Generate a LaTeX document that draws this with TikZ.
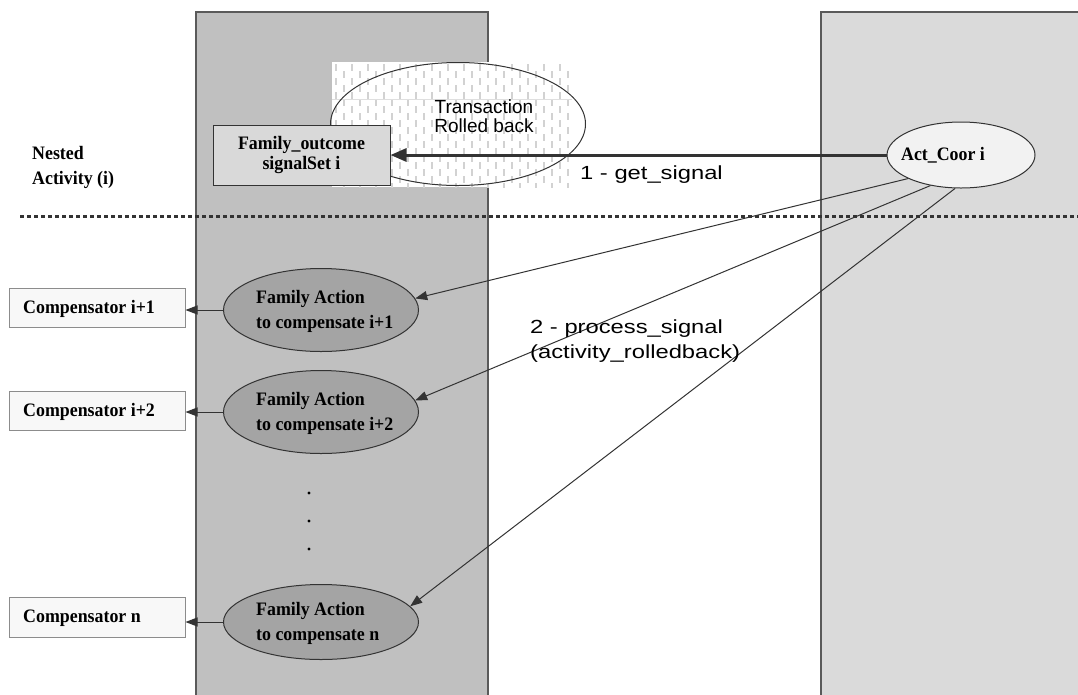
\documentclass[tikz,border=0pt]{standalone}
\usepackage{fontspec}
\setmainfont{Liberation Serif}
\newfontfamily\narrowserif[FakeStretch=0.94]{Liberation Serif}
\newfontfamily\widesans[FakeStretch=1.25]{Liberation Sans}
\newfontfamily\plainsans{Liberation Sans}
\usetikzlibrary{arrows.meta,shapes.geometric}

\definecolor{laneA}{HTML}{C0C0C0}
\definecolor{laneB}{HTML}{DADADA}
\definecolor{laneedge}{HTML}{5A5A5A}
\definecolor{ink}{HTML}{333333}
\definecolor{sigfill}{HTML}{D9D9D9}
\definecolor{actfill}{HTML}{A4A4A4}
\definecolor{coorfill}{HTML}{F2F2F2}
\definecolor{compfill}{HTML}{F8F8F8}
\definecolor{compedge}{HTML}{8C8C8C}
\definecolor{hatch}{HTML}{D2D2D2}

\tikzset{
  lane/.style={rectangle, draw=laneedge, line width=1.5pt, anchor=north west, inner sep=0pt},
  sigbox/.style={rectangle, draw=ink, fill=sigfill, line width=1pt, minimum width=177pt, minimum height=60pt, inner sep=0pt,
    align=center, font=\narrowserif\bfseries\fontsize{19}{20}\selectfont},
  compbox/.style={rectangle, draw=compedge, fill=compfill, line width=1pt, minimum width=176pt, minimum height=39pt, inner sep=0pt},
  actoval/.style={ellipse, draw=ink, fill=actfill, line width=1pt, minimum width=195pt, minimum height=83pt, inner sep=0pt},
  cooroval/.style={ellipse, draw=ink, fill=coorfill, line width=1pt, minimum width=148pt, minimum height=66pt, inner sep=0pt},
  txnoval/.style={ellipse, draw=ink, line width=1pt, minimum width=255pt, minimum height=123pt, inner sep=0pt},
  serifbold/.style={inner sep=0pt, align=left, font=\narrowserif\bfseries\fontsize{19}{25}\selectfont},
  sanslabel/.style={inner sep=0pt, align=left, font=\widesans\fontsize{19}{25}\selectfont},
  ovallabel/.style={inner sep=0pt, align=center, font=\plainsans\fontsize{19}{19}\selectfont},
  arr/.style={draw=ink, line width=1pt, -{Triangle[length=12pt,width=9pt]}},
  bigarr/.style={draw=ink, line width=3pt, -{Triangle[length=16pt,width=13pt]}},
  divider/.style={draw=ink, line width=3pt, dash pattern=on 4pt off 3pt},
  hatchmark/.style={draw=hatch, line width=1.3pt}
}

\begin{document}
\begin{tikzpicture}[x=1pt,y=-1pt]
\useasboundingbox (0,0) rectangle (1078,694);
\clip (0,0) rectangle (1078,694);

% swim lanes
\node[lane, fill=laneA, minimum width=292pt, minimum height=700pt] (laneL) at (195,11) {};
\node[lane, fill=laneB, minimum width=280pt, minimum height=700pt] (laneR) at (820,11) {};

% textured backdrop behind the rollback oval
\fill[white] (332,62) rectangle (572,187);
\begin{scope}
  \clip (332,62) rectangle (572,187);
  \foreach \x in {336,352,...,568} {
    \foreach \y in {64,78,...,186} { \draw[hatchmark] (\x,\y) -- (\x,\y+7); }
  }
  \foreach \x in {344,360,...,568} {
    \foreach \y in {71,85,...,186} { \draw[hatchmark] (\x,\y) -- (\x,\y+7); }
  }
  \draw[hatch!70, line width=0.8pt] (332,99) -- (572,99);
\end{scope}

% rollback oval
\node[txnoval] (txn) at (458,124) {};
\node[ovallabel] (txnlbl) at (484,116) {Transaction\\Rolled back};

% signal set box
\node[sigbox] (fam) at (301.5,155) {Family\_outcome\\signalSet i};

% coordinator
\node[cooroval] (coor) at (961,155) {};
\node[serifbold] (coorlbl) at (943,155) {Act\_Coor i};

\draw[bigarr] (coor.west) -- (fam.east);
\node[sanslabel, anchor=west] (getsig) at (580,175) {1 - get\_signal};

% nested activity label and divider
\node[serifbold, anchor=west] (nested) at (32,167) {Nested\\Activity (i)};
\coordinate (divL) at (20,216);
\coordinate (divR) at (1080,216);
\draw[divider] (divL) -- (divR);

% family actions
\node[actoval] (fa1) at (321,310) {};
\node[actoval] (fa2) at (321,412) {};
\node[actoval, minimum height=75pt] (fan) at (321,622) {};
\node[serifbold, anchor=west] (fa1lbl) at (256,311) {Family Action\\to compensate i+1};
\node[serifbold, anchor=west] (fa2lbl) at (256,413) {Family Action\\to compensate i+2};
\node[serifbold, anchor=west] (fanlbl) at (256,623) {Family Action\\to compensate n};

% compensators
\node[compbox] (comp1) at (97,308) {};
\node[compbox] (comp2) at (97,411) {};
\node[compbox, minimum height=40pt] (compn) at (97,617) {};
\node[serifbold, anchor=west] (comp1lbl) at (23,309) {Compensator i+1};
\node[serifbold, anchor=west] (comp2lbl) at (23,412) {Compensator i+2};
\node[serifbold, anchor=west] (compnlbl) at (23,618) {Compensator n};

\draw[arr] (fa1.west) -- (fa1.west -| comp1.east);
\draw[arr] (fa2.west) -- (fa2.west -| comp2.east);
\draw[arr] (fan.west) -- (fan.west -| compn.east);

% process_signal fan-out
\draw[arr] (coor.204) -- (fa1.7);
\draw[arr] (coor.225) -- (fa2.7);
\draw[arr] (coor.260) -- (fan.10);
\node[sanslabel, anchor=west] (procsig) at (530,341) {2 - process\_signal\\(activity\_rolledback)};

% ellipsis dots
\fill[black] (309,493) circle (1.7pt) (309,521) circle (1.7pt) (309,549) circle (1.7pt);
\end{tikzpicture}
\end{document}
